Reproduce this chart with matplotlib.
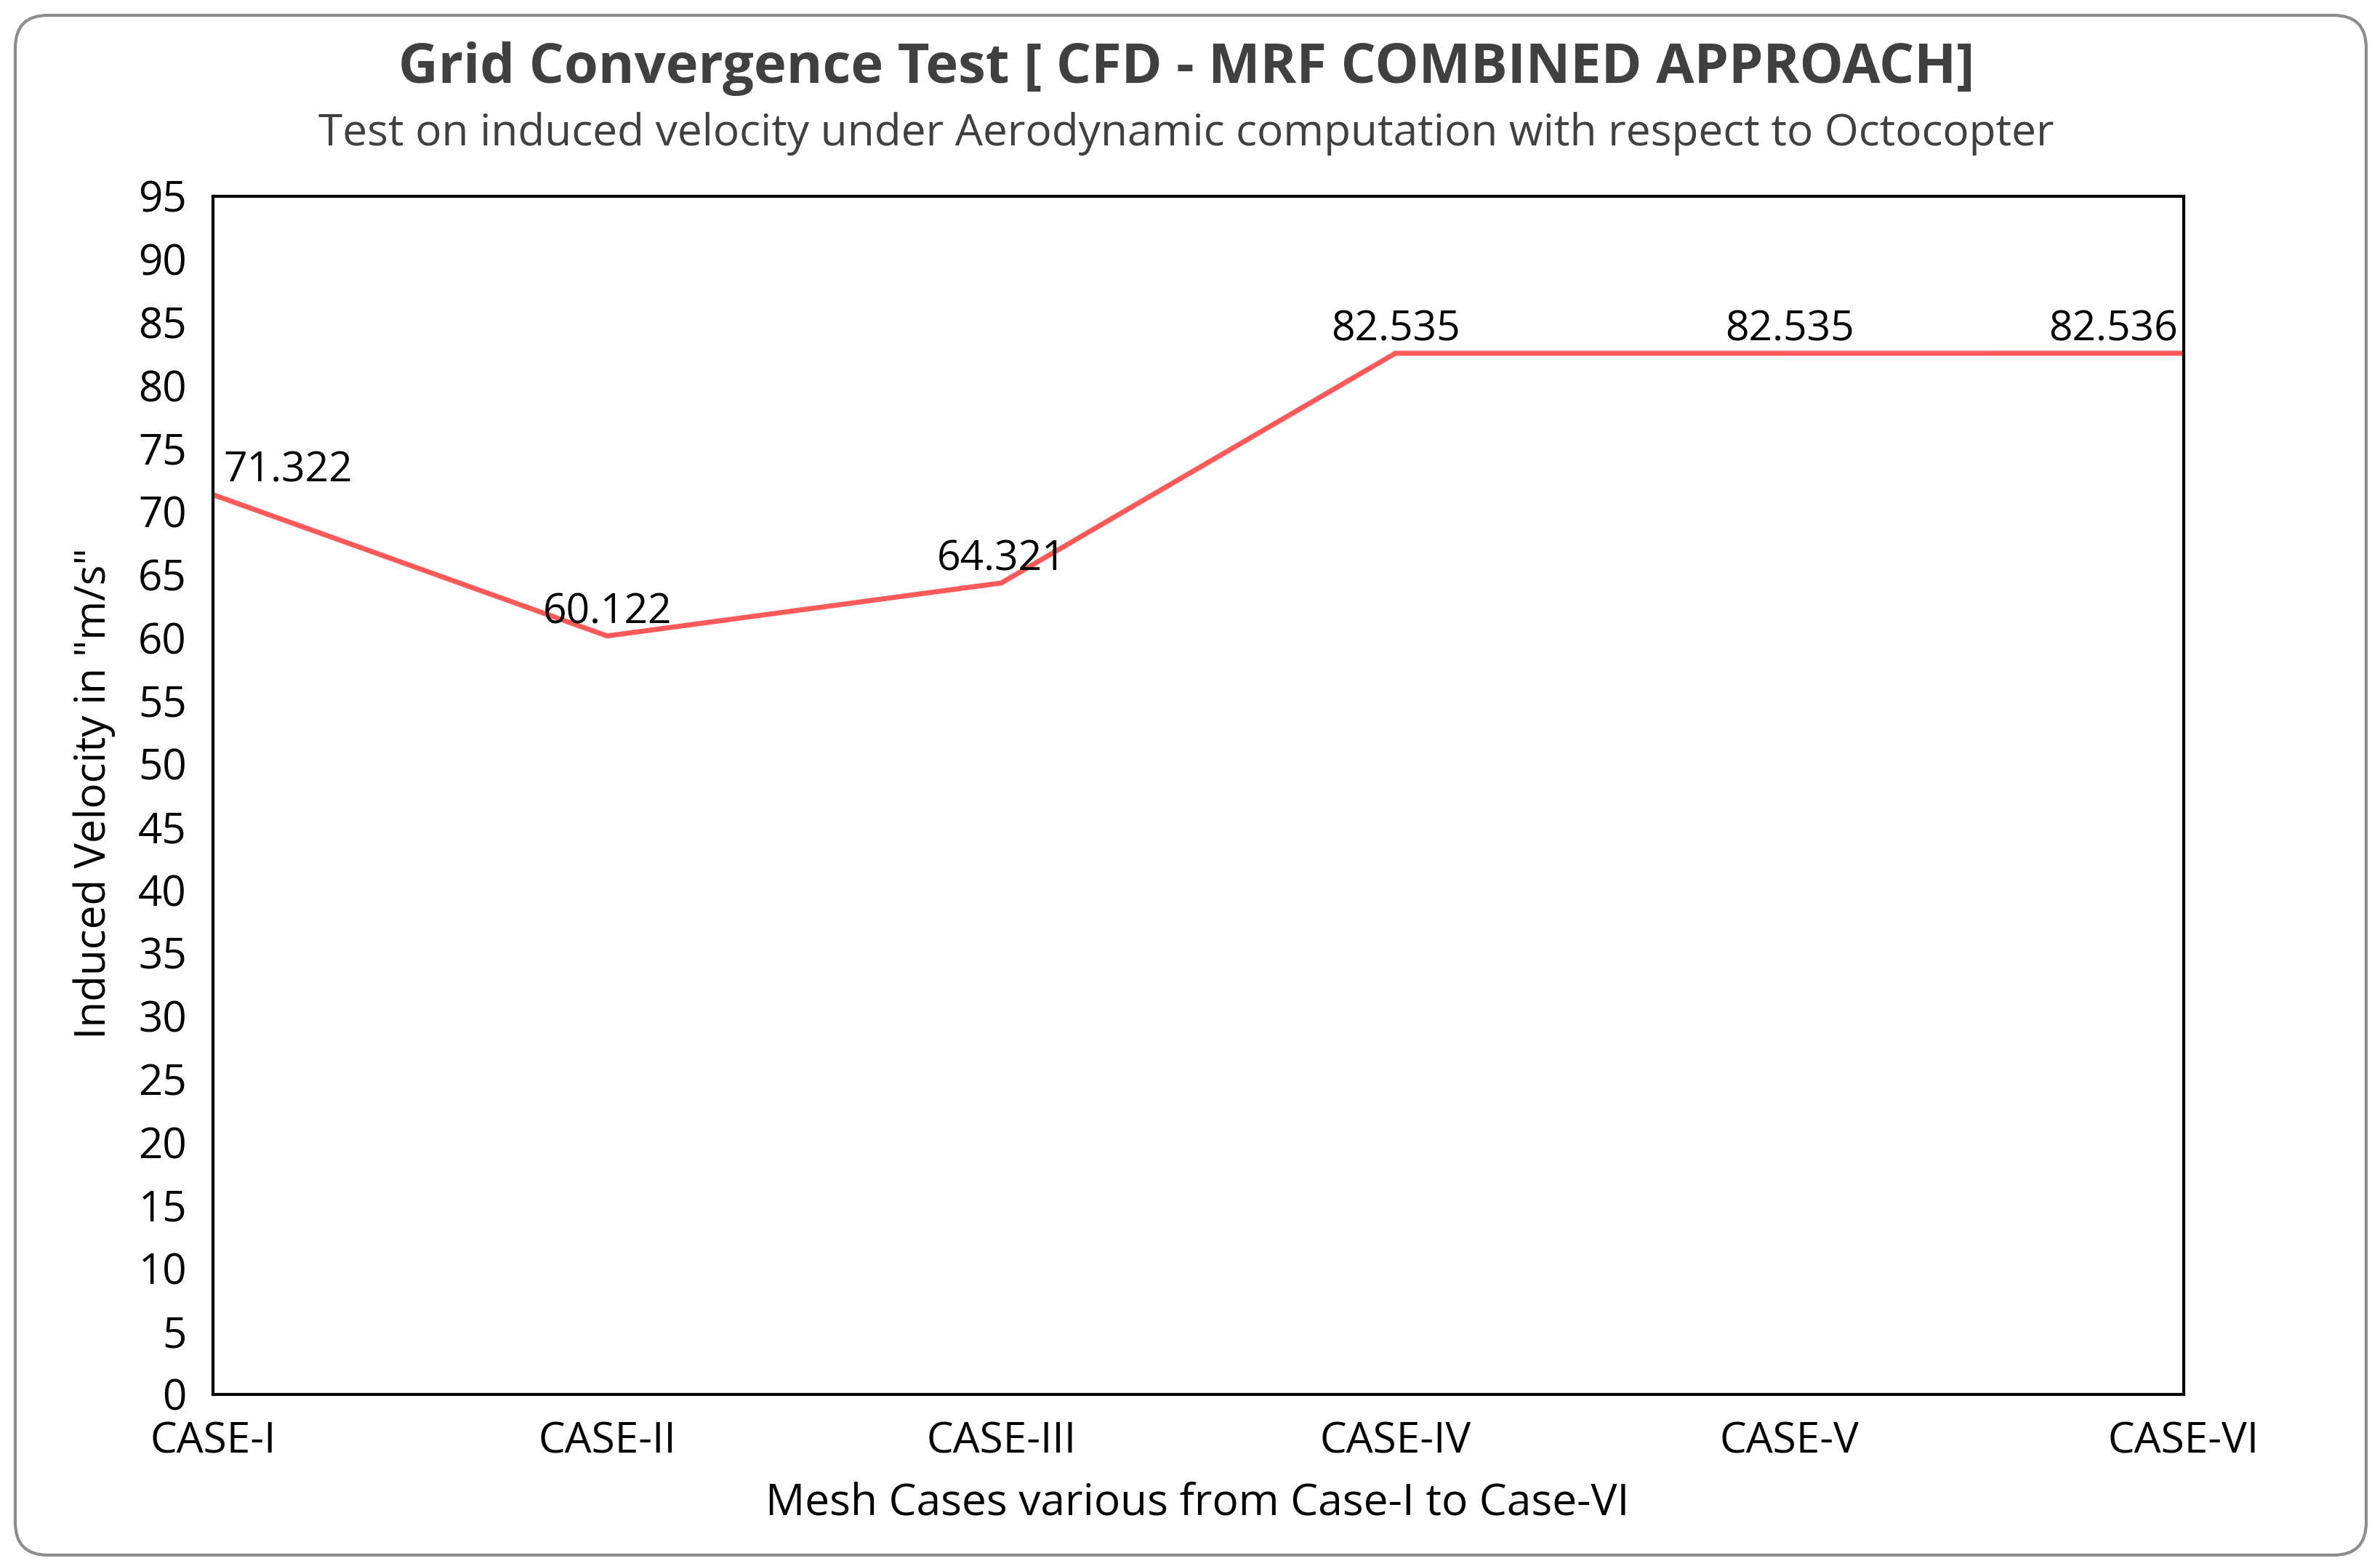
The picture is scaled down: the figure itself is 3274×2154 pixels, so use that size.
import matplotlib
matplotlib.use("Agg")
import matplotlib.pyplot as plt
from matplotlib.patches import FancyBboxPatch
from matplotlib.transforms import IdentityTransform

cases = ["CASE-I", "CASE-II", "CASE-III", "CASE-IV", "CASE-V", "CASE-VI"]
velocity = [71.322, 60.122, 64.321, 82.535, 82.535, 82.536]
labels = ["71.322", "60.122", "64.321", "82.535", "82.535", "82.536"]
yticks = list(range(0, 100, 5))

plt.rcParams['font.family'] = ['Open Sans', 'DejaVu Sans']

W, H = 3274, 2154
fig = plt.figure(figsize=(W / 100, H / 100), dpi=100)
fig.patch.set_facecolor("white")

# rounded outer frame
frame = FancyBboxPatch((21, 15), 3234, 2118,
                       boxstyle="round,pad=0,rounding_size=45",
                       transform=IdentityTransform(),
                       facecolor="none", edgecolor="#8c8c8c", linewidth=3,
                       zorder=-5)
fig.patches.append(frame)

ax = fig.add_axes([0.0895, 0.1097, 0.9175 - 0.0895, 0.8748 - 0.1097])
ax.set_facecolor("none")
x = list(range(len(cases)))
ax.plot(x, velocity, color="#FF5A5A", linewidth=5, solid_joinstyle="miter")

ax.set_xlim(0, len(cases) - 1)
ax.set_ylim(0, 95)
ax.set_yticks(yticks)
ax.set_yticklabels([str(v) for v in yticks])
ax.set_xticks(x)
ax.set_xticklabels(cases)
ax.tick_params(axis="both", length=0, labelsize=42, colors="black")
ax.tick_params(axis="y", pad=26)
ax.tick_params(axis="x", pad=26)
for s in ax.spines.values():
    s.set_linewidth(3)
    s.set_color("black")

for i, (v, lab) in enumerate(zip(velocity, labels)):
    if i == 0:
        ha, dx = "left", 14
    elif i == len(cases) - 1:
        ha, dx = "right", -8
    else:
        ha, dx = "center", 0
    ax.annotate(lab, (i, v), xytext=(dx, 32), textcoords="offset pixels",
                ha=ha, va="center", fontsize=41, color="black")

fig.text(0.4985, 0.956, "Grid Convergence Test [ CFD - MRF COMBINED APPROACH]",
         ha="center", va="center", fontsize=54.5, fontweight="bold", color="#404040")
fig.text(0.4985, 0.9145, "Test on induced velocity under Aerodynamic computation with respect to Octocopter",
         ha="center", va="center", fontsize=43.5, color="#404040")
fig.text(0.503, 0.040, "Mesh Cases various from Case-I to Case-VI",
         ha="center", va="center", fontsize=43.5, color="black")
fig.text(0.0397, 0.4935, 'Induced Velocity in "m/s"', ha="center", va="center",
         rotation=90, fontsize=42, color="black")

fig.savefig("out.png", dpi=100, facecolor="white")
